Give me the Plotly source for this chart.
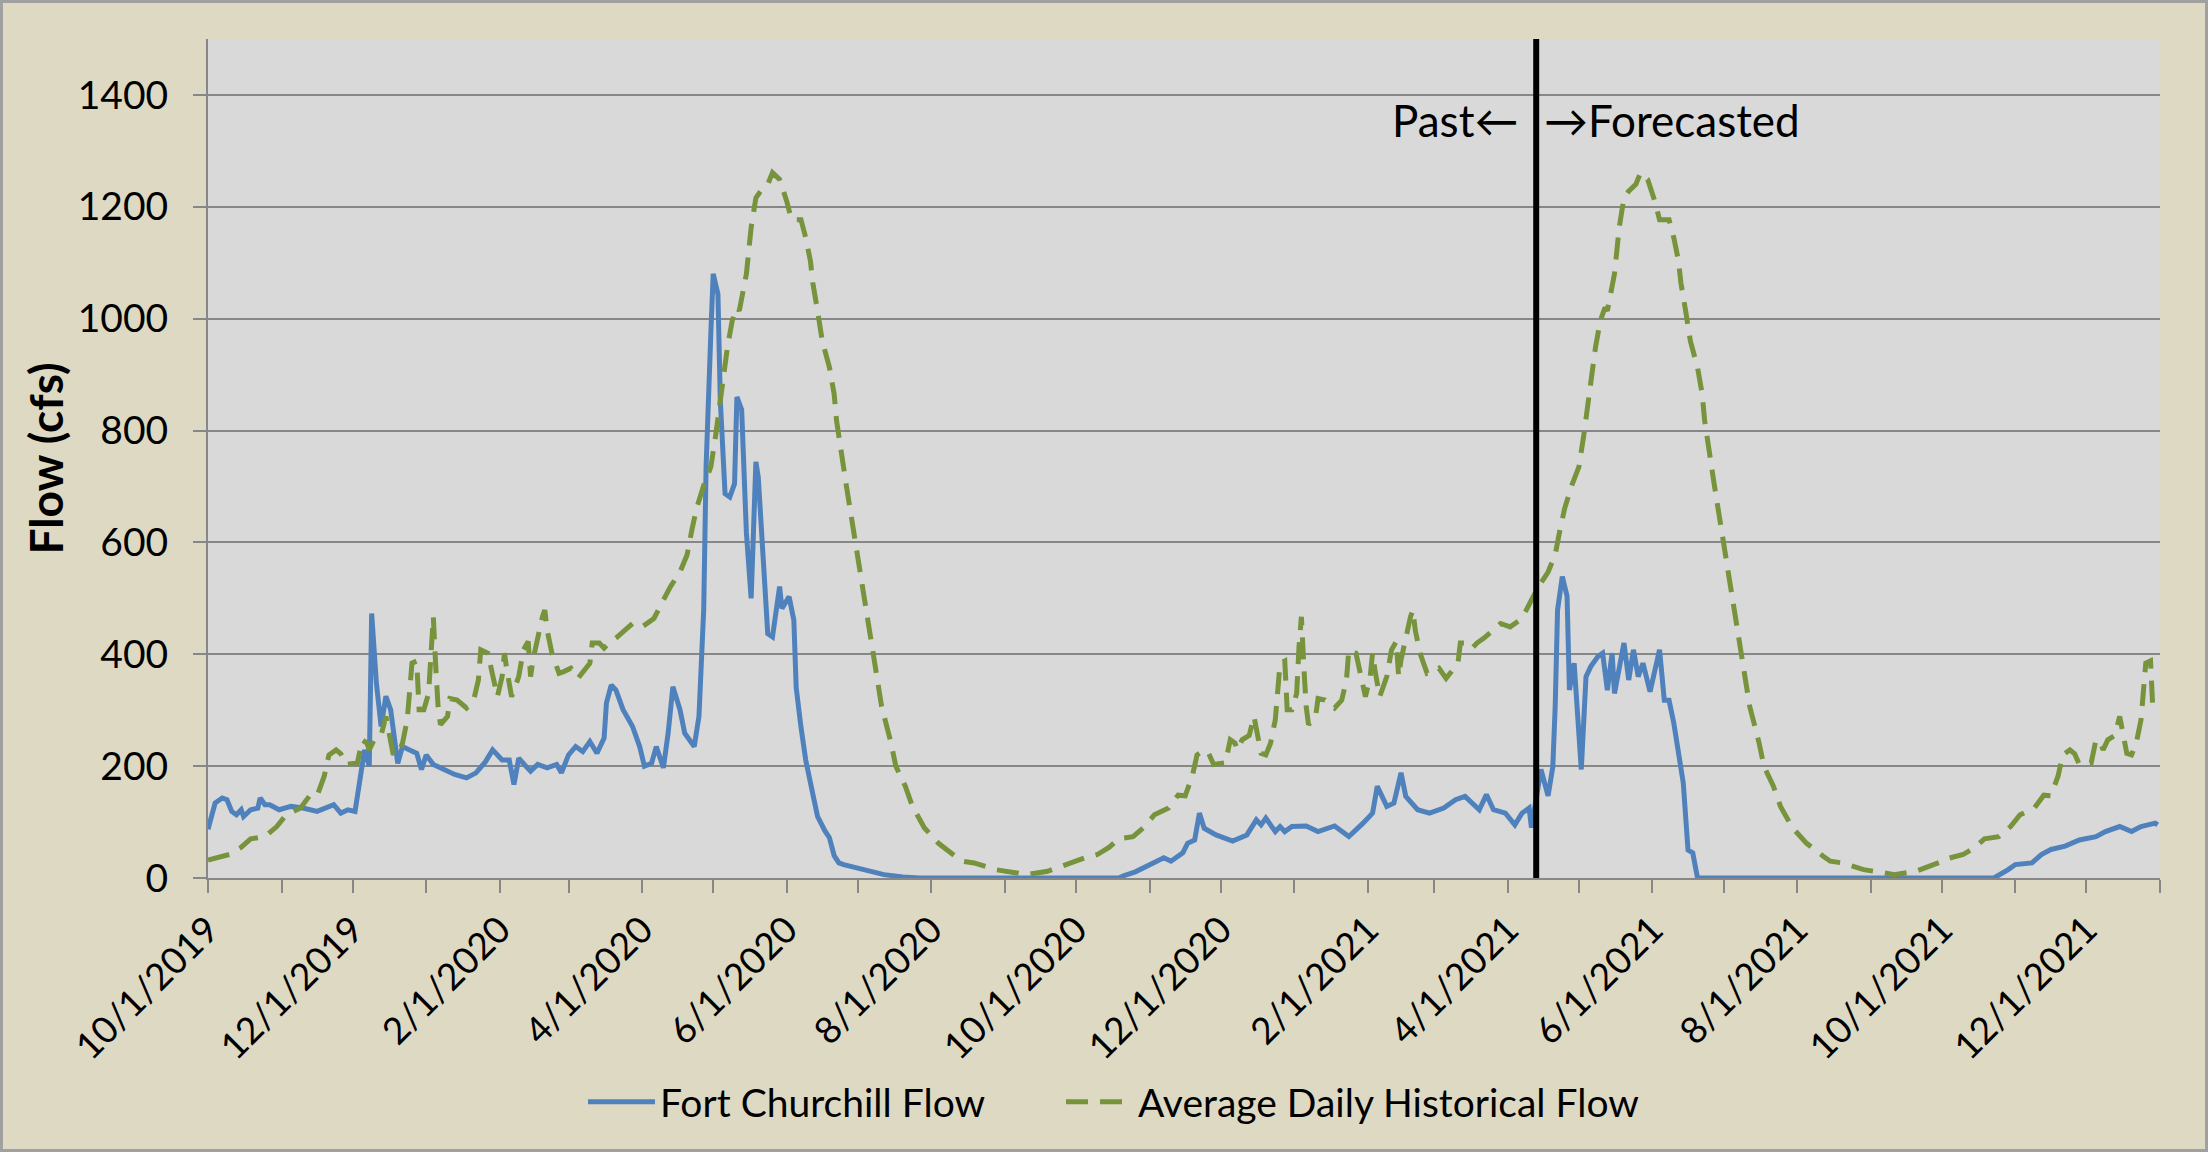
import pandas as pd
import plotly.graph_objects as go

# ---------------- data ----------------
START_DATE = "2019-10-01"
END_DATE = "2021-12-31"
FORECAST_START = "2021-04-13"

# Fort Churchill Flow (days since 10/1/2019, cfs)
flow_day = [0, 3, 6, 8, 10, 12, 14, 15, 18, 21,
            22, 24, 26, 30, 35, 40, 46, 53, 56, 59,
            62, 65, 66, 68, 69, 71, 73, 75, 77, 80,
            82, 85, 88, 90, 92, 95, 99, 104, 109, 113,
            117, 120, 124, 127, 129, 131, 134, 136, 139, 143,
            147, 149, 152, 155, 158, 161, 164, 167, 168, 170,
            172, 175, 179, 182, 184, 187, 189, 192, 194, 196,
            199, 201, 205, 207, 209, 210, 212, 213, 215, 216,
            218, 220, 222, 223, 225, 227, 229, 231, 232, 234,
            236, 238, 241, 242, 245, 247, 248, 250, 252, 255,
            257, 260, 262, 264, 266, 268, 276, 285, 293, 300,
            384, 386, 391, 397, 403, 406, 411, 413, 416, 418,
            420, 425, 432, 438, 442, 444, 446, 450, 452, 454,
            457, 463, 468, 475, 481, 487, 491, 493, 497, 500,
            503, 505, 510, 515, 521, 526, 530, 536, 539, 542,
            547, 551, 554, 557, 558, 562, 565, 567, 568, 569,
            571, 573, 574, 576, 577, 579, 581, 583, 586, 588,
            590, 592, 593, 597, 599, 601, 603, 605, 608, 612,
            614, 616, 618, 620, 622, 624, 626, 628, 753, 759,
            762, 769, 773, 777, 783, 789, 796, 800, 806, 811,
            815, 821, 822]
flow_cfs = [87, 134, 143, 140, 119, 113, 122, 110, 122, 125,
            143, 131, 131, 122, 128, 125, 119, 131, 116, 122,
            119, 194, 229, 200, 473, 348, 271, 325, 301, 205,
            235, 229, 223, 194, 220, 203, 194, 185, 179, 188,
            208, 229, 211, 211, 167, 214, 200, 191, 203, 197,
            203, 188, 220, 235, 226, 244, 223, 250, 313, 345,
            336, 301, 271, 235, 200, 205, 235, 197, 259, 342,
            301, 259, 235, 289, 480, 735, 973, 1080, 1044, 854,
            687, 681, 705, 860, 837, 617, 500, 744, 717, 560,
            437, 431, 521, 482, 503, 461, 340, 270, 211, 150,
            110, 85, 72, 40, 27, 24, 15, 6, 2, 0,
            0, 4, 11, 23, 36, 30, 45, 62, 68, 116,
            89, 77, 66, 77, 104, 95, 107, 83, 92, 83,
            92, 93, 83, 93, 74, 98, 116, 164, 128, 134,
            188, 146, 122, 116, 125, 140, 146, 122, 149, 122,
            116, 95, 116, 125, 90, 194, 147, 199, 307, 479,
            539, 504, 336, 384, 330, 194, 360, 378, 396, 402,
            336, 402, 330, 420, 354, 408, 360, 384, 333, 408,
            318, 318, 277, 223, 170, 50, 45, 0, 0, 15,
            24, 27, 42, 51, 57, 68, 74, 83, 92, 83,
            92, 98, 95]

# Average Daily Historical Flow (day of water year, cfs) - repeats every water year
hist_wy_day = [0, 5, 9, 14, 18, 24, 29, 33, 39, 43,
               46, 49, 51, 54, 56, 58, 63, 65, 67, 68,
               70, 73, 75, 78, 80, 82, 84, 86, 88, 89,
               91, 93, 94, 95, 96, 97, 98, 101, 102, 105,
               109, 112, 114, 115, 118, 120, 122, 124, 125, 126,
               128, 131, 133, 135, 136, 137, 139, 141, 142, 143,
               145, 148, 150, 153, 156, 161, 162, 165, 167, 169,
               172, 176, 179, 183, 188, 192, 195, 199, 202, 204,
               206, 209, 212, 214, 216, 219, 221, 223, 224, 227,
               229, 231, 233, 236, 238, 241, 244, 246, 250, 252,
               254, 255, 257, 259, 262, 264, 265, 267, 269, 271,
               273, 275, 276, 278, 281, 284, 288, 290, 294, 297,
               302, 308, 315, 318, 323, 332, 341, 345, 354, 358,
               364]
hist_cfs = [32, 38, 42, 55, 70, 74, 92, 113, 125, 148,
            147, 182, 220, 229, 222, 203, 206, 247, 241, 229,
            247, 255, 289, 223, 220, 241, 283, 384, 388, 301,
            301, 330, 414, 467, 380, 307, 274, 289, 321, 318,
            304, 318, 354, 408, 402, 360, 324, 360, 402, 372,
            324, 360, 408, 423, 360, 390, 432, 467, 479, 443,
            402, 366, 369, 375, 357, 384, 420, 420, 411, 420,
            429, 443, 455, 449, 464, 497, 521, 547, 578, 622,
            661, 702, 735, 790, 860, 949, 996, 1020, 1014, 1080,
            1163, 1216, 1228, 1240, 1261, 1249, 1210, 1177, 1177, 1145,
            1103, 1064, 1014, 960, 913, 865, 818, 753, 705, 652,
            598, 544, 512, 460, 380, 307, 241, 200, 164, 128,
            90, 62, 39, 30, 27, 15, 9, 6, 12, 18,
            28]
water_year_starts = ["2019-10-01", "2020-10-01", "2021-10-01"]

y_ticks = [0, 200, 400, 600, 800, 1000, 1200, 1400]

# ---------------- build series ----------------
start = pd.Timestamp(START_DATE)
end = pd.Timestamp(END_DATE)
flow_x = [start + pd.Timedelta(days=d) for d in flow_day]

hist_x, hist_y = [], []
for ws in water_year_starts:
    base = pd.Timestamp(ws)
    for d, v in zip(hist_wy_day, hist_cfs):
        dt = base + pd.Timedelta(days=d)
        if dt <= end:
            hist_x.append(dt)
            hist_y.append(v)

# ---------------- figure ----------------
W, H = 2208, 1152
ML, MR, MT, MB = 208, 48, 39, 274
FONT = "Lato, 'Open Sans', sans-serif"
GRID = "#878787"
pw = W - ML - MR
ph = H - MT - MB

fig = go.Figure()
fig.add_trace(go.Scatter(
    x=flow_x, y=flow_cfs, mode="lines", name="Fort Churchill Flow",
    line=dict(color="#4F81BD", width=5), legend="legend"))
fig.add_trace(go.Scatter(
    x=hist_x, y=hist_y, mode="lines", name="Average Daily Historical Flow",
    line=dict(color="#77933C", width=5, dash="22px,12px"), legend="legend2"))

fig.add_shape(type="line", xref="x", yref="paper",
              x0=FORECAST_START, x1=FORECAST_START, y0=0, y1=1,
              line=dict(color="black", width=6))

fig.add_shape(type="rect", xref="paper", yref="paper",
              x0=-(ML - 1.5) / pw, x1=1 + (MR - 1.5) / pw,
              y0=-(MB - 1.5) / ph, y1=1 + (MT - 1.5) / ph,
              line=dict(color="#A0A0A0", width=3), layer="below")

fig.add_annotation(x=FORECAST_START, xref="x", y=0.9035, yref="paper",
                   text="Past\u2190", showarrow=False, xanchor="right",
                   yanchor="middle", xshift=-16,
                   font=dict(family=FONT, size=44, color="black"))
fig.add_annotation(x=FORECAST_START, xref="x", y=0.9035, yref="paper",
                   text="\u2192Forecasted", showarrow=False, xanchor="left",
                   yanchor="middle", xshift=6,
                   font=dict(family=FONT, size=44, color="black"))

legend_style = dict(orientation="h", yanchor="middle", y=-0.2668,
                    xanchor="left",
                    font=dict(family=FONT, size=39, color="black"),
                    bgcolor="rgba(0,0,0,0)", itemwidth=67)

fig.update_layout(
    width=W, height=H,
    margin=dict(l=ML, r=MR, t=MT, b=MB, pad=0),
    paper_bgcolor="#DDD9C3",
    plot_bgcolor="#D9D9D9",
    font=dict(family=FONT, size=38, color="black"),
    showlegend=True,
    legend=dict(x=(583 - ML) / pw, **legend_style),
    legend2=dict(x=(1061 - ML) / pw, **legend_style),
    xaxis=dict(
        type="date", range=["2019-10-01", "2022-01-01"],
        tick0="2019-10-01", dtick="M2", tickformat="%-m/%-d/%Y",
        tickangle=-45, ticks="outside", ticklen=13, tickwidth=2, tickcolor=GRID,
        minor=dict(dtick="M1", tick0="2019-10-01", ticks="outside",
                   ticklen=13, tickwidth=2, tickcolor=GRID, showgrid=False),
        showline=True, linecolor=GRID, linewidth=2,
        showgrid=False, zeroline=False, automargin=False,
        tickfont=dict(family=FONT, size=37, color="black")),
    yaxis=dict(
        range=[0, 1500], tickvals=y_ticks,
        ticks="outside", ticklen=13, tickwidth=2, tickcolor=GRID,
        ticklabelstandoff=17,
        showline=True, linecolor=GRID, linewidth=2,
        showgrid=True, gridcolor=GRID, gridwidth=2, zeroline=False,
        automargin=False,
        tickfont=dict(family=FONT, size=39, color="black"),
        title=dict(text="<b>Flow (cfs)</b>", standoff=0,
                   font=dict(family=FONT, size=46, color="black"))),
)

fig.write_html("out.html",
               config={"displayModeBar": False},
               post_script="document.body.style.margin='0';document.body.style.overflow='hidden';")
